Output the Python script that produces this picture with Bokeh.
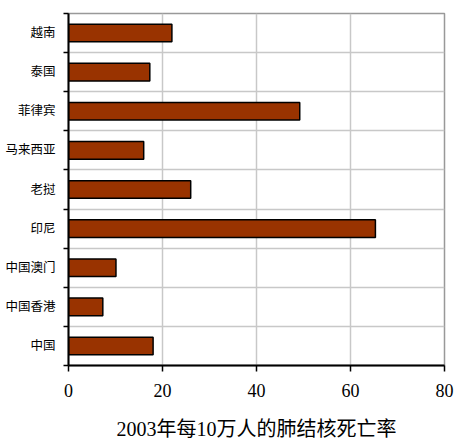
from bokeh.plotting import figure
from bokeh.models import FixedTicker, ColumnDataSource, Range1d
from bokeh.embed import file_html
from bokeh.resources import INLINE

categories = ["中国", "中国香港", "中国澳门", "印尼", "老挝", "马来西亚", "菲律宾", "泰国", "越南"]
values = [18.0, 7.3, 10.1, 65.3, 26.0, 16.0, 49.2, 17.3, 22.0]
x_ticks = [0, 20, 40, 60, 80]
x_label = "2003年每10万人的肺结核死亡率"

FONT = "Liberation Serif, Noto Sans CJK SC"

n = len(categories)
centers = [i + 0.5 for i in range(n)]
bounds = [float(i) for i in range(n + 1)]

src = ColumnDataSource(dict(y=centers, v=values, name=categories))

p = figure(width=456, height=444, output_backend="svg", toolbar_location=None,
           x_range=Range1d(0, 80), y_range=Range1d(0, n),
           min_border_left=68, min_border_right=12, min_border_top=13, min_border_bottom=79)

p.hbar(y="y", right="v", left=0, height=0.45, source=src,
       fill_color="#993300", line_color="black", line_width=1.5)

p.outline_line_color = "#999999"
p.outline_line_width = 1.5

# x axis
xa = p.xaxis[0]
xa.ticker = FixedTicker(ticks=x_ticks)
xa.axis_line_color = "black"
xa.axis_line_width = 2
xa.major_tick_line_color = "black"
xa.major_tick_line_width = 1.5
xa.major_tick_in = 0
xa.major_tick_out = 6
xa.minor_tick_line_color = None
xa.major_label_text_font = FONT
xa.major_label_text_font_size = "18px"
xa.major_label_text_color = "black"
xa.major_label_standoff = 12
xa.axis_label = x_label
xa.axis_label_text_font = FONT
xa.axis_label_text_font_size = "20px"
xa.axis_label_text_font_style = "normal"
xa.axis_label_text_color = "black"
xa.axis_label_standoff = 18

# y axis
ya = p.yaxis[0]
ya.ticker = FixedTicker(ticks=centers, minor_ticks=bounds)
ya.major_label_overrides = {c: name for c, name in zip(centers, categories)}
ya.axis_line_color = "black"
ya.axis_line_width = 2
ya.major_tick_line_color = None
ya.major_tick_in = 0
ya.major_tick_out = 0
ya.minor_tick_line_color = "black"
ya.minor_tick_line_width = 1.5
ya.minor_tick_in = 0
ya.minor_tick_out = 5
ya.major_label_text_font = FONT
ya.major_label_text_font_size = "12.5px"
ya.major_label_text_color = "black"
ya.major_label_standoff = 8

# grids
p.xgrid.grid_line_color = "#c8c8c8"
p.xgrid.grid_line_width = 1.5
p.ygrid.grid_line_color = None
p.ygrid.minor_grid_line_color = "#c8c8c8"
p.ygrid.minor_grid_line_width = 1.5

p.background_fill_color = "white"
p.border_fill_color = "white"

open("out.html", "w").write(file_html(p, INLINE))
